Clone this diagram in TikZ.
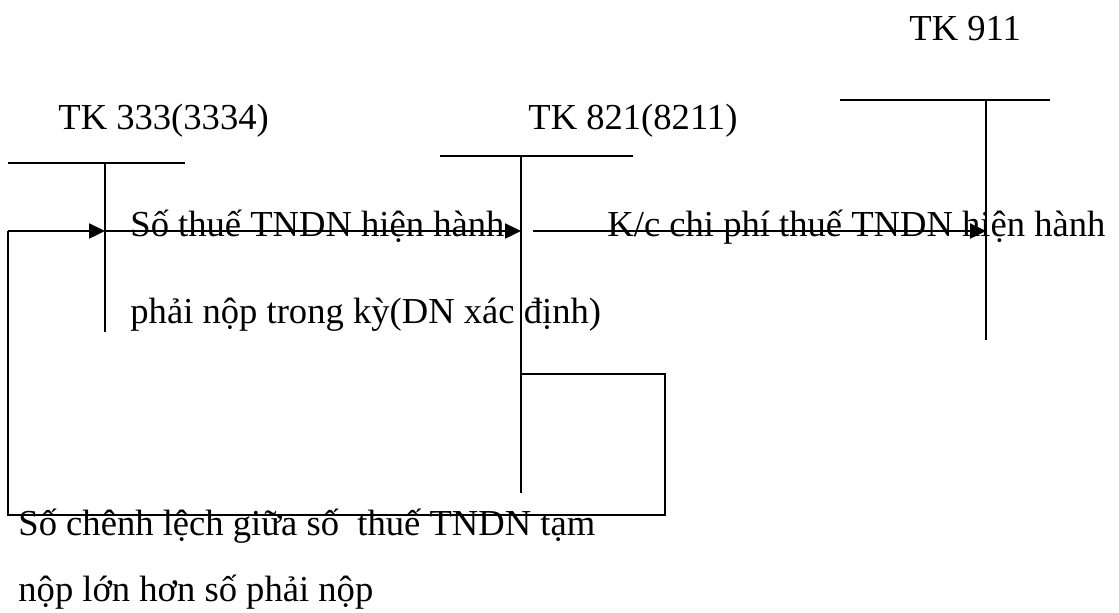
\documentclass[tikz,border=0pt]{standalone}
\usepackage{fontspec}
\setmainfont{Liberation Serif}
\usetikzlibrary{arrows.meta}
\begin{document}
\begin{tikzpicture}[x=0.5pt,y=-0.5pt,
  acc/.style={line width=1.2pt},
  flow/.style={line width=1.2pt,-{Triangle[length=8pt,width=7.5pt]}},
  lbl/.style={inner sep=0pt,anchor=base west,font=\fontsize{18.3}{20}\selectfont}]
\useasboundingbox (0,0) rectangle (1119,612);
% T-accounts
\coordinate (a1l) at (8,163); \coordinate (a1r) at (185,163);
\coordinate (a1t) at (105,163); \coordinate (a1b) at (105,332);
\coordinate (a2l) at (440,156); \coordinate (a2r) at (633,156);
\coordinate (a2t) at (521,156); \coordinate (a2b) at (521,493);
\coordinate (a3l) at (840,100); \coordinate (a3r) at (1050,100);
\coordinate (a3t) at (986,100); \coordinate (a3b) at (986,340);
\draw[acc] (a1l) -- (a1r) (a1t) -- (a1b);
\draw[acc] (a2l) -- (a2r) (a2t) -- (a2b);
\draw[acc] (a3l) -- (a3r) (a3t) -- (a3b);
% titles
\node[lbl] (t911) at (909,40) {TK 911};
\node[lbl] (t333) at (58,129) {TK 333(3334)};
\node[lbl] (t821) at (528,129) {TK 821(8211)};
% flows
\coordinate (r1) at (105,231);
\coordinate (r2) at (521,231);
\coordinate (r2s) at (533,231);
\coordinate (r3) at (986,231);
\coordinate (b1) at (521,374);
\coordinate (b2) at (665,374);
\coordinate (b3) at (665,515);
\coordinate (b4) at (8,515);
\coordinate (b5) at (8,231);
\draw[acc] (b1) -- (b2) -- (b3) -- (b4) -- (b5);
\draw[flow] (b5) -- (r1);
\draw[flow] (r1) -- (r2);
\draw[flow] (r2s) -- (r3);
% labels
\node[lbl] (l1) at (130,236) {Số thuế TNDN hiện hành};
\node[lbl] (l2) at (130,323) {phải nộp trong kỳ(DN xác định)};
\node[lbl] (l3) at (607,236) {K/c chi phí thuế TNDN hiện hành};
\node[lbl] (l4) at (18,535) {Số chênh lệch giữa số\ \ thuế TNDN tạm};
\node[lbl] (l5) at (18,601) {nộp lớn hơn số phải nộp};
\end{tikzpicture}
\end{document}
